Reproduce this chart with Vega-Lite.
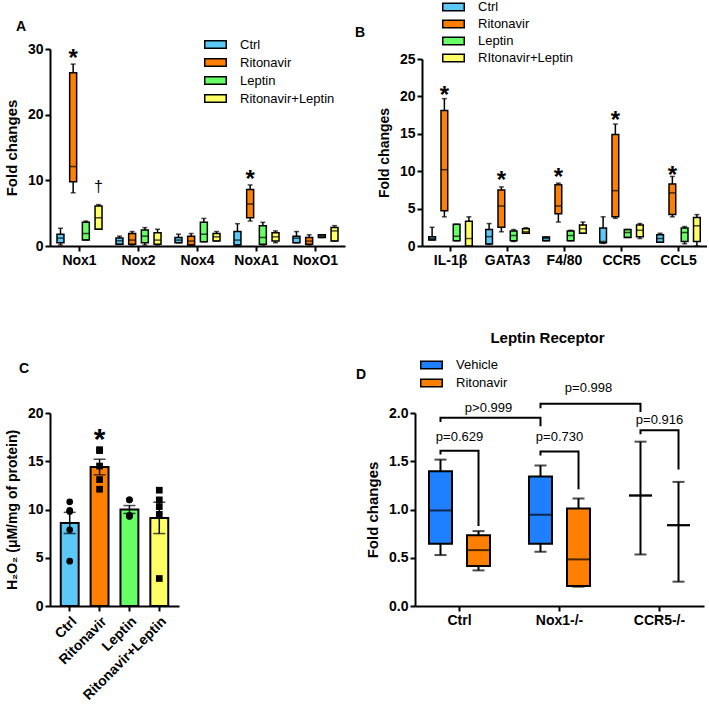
{
  "$schema": "https://vega.github.io/schema/vega-lite/v6.json",
  "padding": {"left": 4, "top": 0, "right": 0, "bottom": 0},
  "background": "white",
  "config": {
    "font": "Liberation Sans",
    "view": {"stroke": null},
    "axis": {"domainColor": "black", "domainWidth": 2, "tickColor": "black", "tickWidth": 2, "tickSize": 5, "labelColor": "black", "labelFont": "Liberation Sans", "labelFontWeight": "bold", "labelFontSize": 14, "titleFont": "Liberation Sans", "titleFontWeight": "bold", "titleFontSize": 15, "titleColor": "black", "grid": false, "labelPadding": 2, "labelOverlap": false},
    "legend": {"padding": 0, "labelFont": "Liberation Sans", "labelFontSize": 13, "labelColor": "black", "symbolStrokeColor": "black", "symbolStrokeWidth": 1.5, "symbolOpacity": 1, "symbolType": "M-2.8,-1H2.8V1H-2.8Z", "symbolSize": 59, "labelOffset": 18, "titleFont": "Liberation Sans", "titleFontSize": 14, "titleFontWeight": "bold", "titleColor": "black"},
    "title": {"font": "Liberation Sans", "fontSize": 14, "fontWeight": "bold", "color": "black"}
  },
  "spacing": 63,
  "resolve": {"scale": {"color": "independent", "xOffset": "independent", "shape": "independent"}, "legend": {"color": "independent", "shape": "independent"}},
  "vconcat": [
    {
      "hconcat": [
        {
          "width": 295, "height": 197,
          "title": {"text": "A", "anchor": "start", "frame": "group", "dx": -34, "offset": 4},
          "data": {"values": [
            {"gene": "Nox1", "group": "Ctrl", "min": 0.15, "q1": 0.5, "median": 1.2, "q3": 1.8, "max": 2.7},
            {"gene": "Nox1", "group": "Ritonavir", "min": 8.1, "q1": 9.8, "median": 12.1, "q3": 26.4, "max": 27.7},
            {"gene": "Nox1", "group": "Leptin", "min": 0.9, "q1": 0.9, "median": 1.9, "q3": 3.6, "max": 3.8},
            {"gene": "Nox1", "group": "Ritonavir+Leptin", "min": 2.55, "q1": 2.55, "median": 4.3, "q3": 6.1, "max": 6.3},
            {"gene": "Nox2", "group": "Ctrl", "min": 0.25, "q1": 0.25, "median": 0.8, "q3": 1.2, "max": 1.5},
            {"gene": "Nox2", "group": "Ritonavir", "min": 0.15, "q1": 0.25, "median": 0.9, "q3": 1.9, "max": 2.2},
            {"gene": "Nox2", "group": "Leptin", "min": 0.15, "q1": 0.5, "median": 1.5, "q3": 2.45, "max": 2.8},
            {"gene": "Nox2", "group": "Ritonavir+Leptin", "min": 0.15, "q1": 0.25, "median": 0.9, "q3": 2.0, "max": 2.55},
            {"gene": "Nox4", "group": "Ctrl", "min": 0.5, "q1": 0.5, "median": 0.9, "q3": 1.3, "max": 1.8},
            {"gene": "Nox4", "group": "Ritonavir", "min": 0.15, "q1": 0.15, "median": 0.75, "q3": 1.5, "max": 1.9},
            {"gene": "Nox4", "group": "Leptin", "min": 0.65, "q1": 0.65, "median": 1.8, "q3": 3.6, "max": 4.2},
            {"gene": "Nox4", "group": "Ritonavir+Leptin", "min": 0.75, "q1": 0.75, "median": 1.4, "q3": 1.9, "max": 2.2},
            {"gene": "NoxA1", "group": "Ctrl", "min": 0.15, "q1": 0.15, "median": 0.9, "q3": 2.2, "max": 3.4},
            {"gene": "NoxA1", "group": "Ritonavir", "min": 3.8, "q1": 4.3, "median": 6.4, "q3": 8.6, "max": 9.3},
            {"gene": "NoxA1", "group": "Leptin", "min": 0.15, "q1": 0.25, "median": 1.3, "q3": 3.1, "max": 3.6},
            {"gene": "NoxA1", "group": "Ritonavir+Leptin", "min": 0.5, "q1": 0.75, "median": 1.4, "q3": 2.0, "max": 2.3},
            {"gene": "NoxO1", "group": "Ctrl", "min": 0.5, "q1": 0.5, "median": 1.2, "q3": 1.5, "max": 2.2},
            {"gene": "NoxO1", "group": "Ritonavir", "min": 0.15, "q1": 0.25, "median": 0.75, "q3": 1.3, "max": 1.7},
            {"gene": "NoxO1", "group": "Leptin", "min": 1.3, "q1": 1.3, "median": 1.5, "q3": 1.7, "max": 1.7},
            {"gene": "NoxO1", "group": "Ritonavir+Leptin", "min": 0.75, "q1": 0.75, "median": 2.3, "q3": 2.8, "max": 3.1}
          ]},
          "encoding": {
            "x": {"field": "gene", "type": "nominal", "scale": {"domain": ["Nox1", "Nox2", "Nox4", "NoxA1", "NoxO1"], "paddingInner": 0, "paddingOuter": 0}, "axis": {"title": null, "labelAngle": 0}},
            "xOffset": {"field": "group", "type": "nominal", "scale": {"domain": ["Ctrl", "Ritonavir", "Leptin", "Ritonavir+Leptin"], "paddingInner": 0.45, "paddingOuter": 0.55}}
          },
          "layer": [
            {"mark": {"type": "rule", "color": "black", "strokeWidth": 1.5}, "encoding": {"y": {"field": "min", "type": "quantitative", "scale": {"domain": [0, 30], "nice": false}, "axis": {"values": [0, 10, 20, 30], "title": "Fold changes", "titlePadding": 8}}, "y2": {"field": "max"}}},
            {"mark": {"type": "bar", "stroke": "black", "strokeWidth": 1.5}, "encoding": {"y": {"field": "q1", "type": "quantitative", "title": "Fold changes"}, "y2": {"field": "q3"}, "color": {"field": "group", "type": "nominal", "scale": {"domain": ["Ctrl", "Ritonavir", "Leptin", "Ritonavir+Leptin"], "range": ["#5BC8F5", "#FF8000", "#66FF66", "#FFFF66"]}, "legend": {"orient": "none", "legendX": 159, "legendY": -11, "title": null, "rowPadding": 3}}}},
            {"mark": {"type": "tick", "color": "black", "thickness": 1.5, "size": 7}, "encoding": {"y": {"field": "median", "type": "quantitative", "title": "Fold changes"}}},
            {"mark": {"type": "tick", "color": "black", "thickness": 1.5, "size": 5}, "encoding": {"y": {"field": "min", "type": "quantitative", "title": "Fold changes"}}},
            {"mark": {"type": "tick", "color": "black", "thickness": 1.5, "size": 5}, "encoding": {"y": {"field": "max", "type": "quantitative", "title": "Fold changes"}}},
            {"data": {"values": [
              {"gene": "Nox1", "group": "Ritonavir", "y": 29.1, "label": "*"},
              {"gene": "NoxA1", "group": "Ritonavir", "y": 10.7, "label": "*"}
            ]}, "mark": {"type": "text", "fontSize": 24, "fontWeight": "bold", "baseline": "alphabetic", "dy": 11, "color": "black"}, "encoding": {"y": {"field": "y", "type": "quantitative", "title": "Fold changes"}, "text": {"field": "label"}}},
            {"data": {"values": [
              {"gene": "Nox1", "group": "Ritonavir+Leptin", "y": 8.9, "label": "†"}
            ]}, "mark": {"type": "text", "fontSize": 16, "baseline": "alphabetic", "dy": 4, "color": "black"}, "encoding": {"y": {"field": "y", "type": "quantitative", "title": "Fold changes"}, "text": {"field": "label"}}}
          ]
        },
        {
          "width": 285, "height": 197,
          "data": {"values": [
            {"gene": "IL-1β", "group": "Ctrl", "min": 0.8, "q1": 0.8, "median": 1.0, "q3": 1.25, "max": 2.5},
            {"gene": "IL-1β", "group": "Ritonavir", "min": 3.9, "q1": 4.7, "median": 10.2, "q3": 18.1, "max": 19.7},
            {"gene": "IL-1β", "group": "Leptin", "min": 0.7, "q1": 0.7, "median": 1.3, "q3": 2.9, "max": 2.9},
            {"gene": "IL-1β", "group": "RItonavir+Leptin", "min": 0, "q1": 0, "median": 1.0, "q3": 3.3, "max": 3.9},
            {"gene": "GATA3", "group": "Ctrl", "min": 0.2, "q1": 0.27, "median": 1.25, "q3": 2.2, "max": 3.0},
            {"gene": "GATA3", "group": "Ritonavir", "min": 1.9, "q1": 2.5, "median": 5.35, "q3": 7.5, "max": 7.9},
            {"gene": "GATA3", "group": "Leptin", "min": 0.6, "q1": 0.7, "median": 1.4, "q3": 2.0, "max": 2.2},
            {"gene": "GATA3", "group": "RItonavir+Leptin", "min": 1.7, "q1": 1.7, "median": 1.9, "q3": 2.3, "max": 2.45},
            {"gene": "F4/80", "group": "Ctrl", "min": 0.7, "q1": 0.7, "median": 1.0, "q3": 1.2, "max": 1.2},
            {"gene": "F4/80", "group": "Ritonavir", "min": 3.2, "q1": 4.3, "median": 5.35, "q3": 8.2, "max": 8.4},
            {"gene": "F4/80", "group": "Leptin", "min": 0.7, "q1": 0.7, "median": 1.4, "q3": 2.0, "max": 2.1},
            {"gene": "F4/80", "group": "RItonavir+Leptin", "min": 1.7, "q1": 1.7, "median": 2.3, "q3": 2.8, "max": 3.2},
            {"gene": "CCR5", "group": "Ctrl", "min": 0.35, "q1": 0.45, "median": 0.6, "q3": 2.4, "max": 3.9},
            {"gene": "CCR5", "group": "Ritonavir", "min": 3.7, "q1": 3.9, "median": 7.4, "q3": 14.9, "max": 16.3},
            {"gene": "CCR5", "group": "Leptin", "min": 1.15, "q1": 1.15, "median": 1.8, "q3": 2.2, "max": 2.2},
            {"gene": "CCR5", "group": "RItonavir+Leptin", "min": 1.0, "q1": 1.25, "median": 2.1, "q3": 2.8, "max": 3.0},
            {"gene": "CCL5", "group": "Ctrl", "min": 0.5, "q1": 0.5, "median": 1.0, "q3": 1.5, "max": 1.7},
            {"gene": "CCL5", "group": "Ritonavir", "min": 3.9, "q1": 4.2, "median": 7.1, "q3": 8.3, "max": 9.3},
            {"gene": "CCL5", "group": "Leptin", "min": 0.3, "q1": 0.6, "median": 1.8, "q3": 2.4, "max": 2.6},
            {"gene": "CCL5", "group": "RItonavir+Leptin", "min": 0, "q1": 0.6, "median": 2.7, "q3": 3.8, "max": 4.2}
          ]},
          "encoding": {
            "x": {"field": "gene", "type": "nominal", "scale": {"domain": ["IL-1β", "GATA3", "F4/80", "CCR5", "CCL5"], "paddingInner": 0, "paddingOuter": 0}, "axis": {"title": null, "labelAngle": 0}},
            "xOffset": {"field": "group", "type": "nominal", "scale": {"domain": ["Ctrl", "Ritonavir", "Leptin", "RItonavir+Leptin"], "paddingInner": 0.45, "paddingOuter": 0.55}}
          },
          "layer": [
            {"mark": {"type": "rule", "color": "black", "strokeWidth": 1.5}, "encoding": {"y": {"field": "min", "type": "quantitative", "scale": {"domain": [0, 25], "nice": false, "range": [197, 10]}, "axis": {"values": [0, 5, 10, 15, 20, 25], "tickCount": 6, "title": "Fold changes", "titleFontSize": 14, "titlePadding": 8, "labelOverlap": false}}, "y2": {"field": "max"}}},
            {"mark": {"type": "bar", "stroke": "black", "strokeWidth": 1.5}, "encoding": {"y": {"field": "q1", "type": "quantitative", "axis": {"values": [0, 5, 10, 15, 20, 25], "tickCount": 6, "title": "Fold changes", "titleFontSize": 14, "titlePadding": 8, "labelOverlap": false}}, "y2": {"field": "q3"}, "color": {"field": "group", "type": "nominal", "scale": {"domain": ["Ctrl", "Ritonavir", "Leptin", "RItonavir+Leptin"], "range": ["#5BC8F5", "#FF8000", "#66FF66", "#FFFF66"]}, "legend": {"orient": "none", "legendX": -67, "legendY": -48.5, "title": "B", "titleOrient": "left", "titlePadding": 81, "titleAnchor": "middle", "titleBaseline": "middle", "rowPadding": 2}}}},
            {"mark": {"type": "tick", "color": "black", "thickness": 1.5, "size": 7}, "encoding": {"y": {"field": "median", "type": "quantitative", "axis": {"values": [0, 5, 10, 15, 20, 25], "tickCount": 6, "title": "Fold changes", "titleFontSize": 14, "titlePadding": 8, "labelOverlap": false}}}},
            {"mark": {"type": "tick", "color": "black", "thickness": 1.5, "size": 5}, "encoding": {"y": {"field": "min", "type": "quantitative", "axis": {"values": [0, 5, 10, 15, 20, 25], "tickCount": 6, "title": "Fold changes", "titleFontSize": 14, "titlePadding": 8, "labelOverlap": false}}}},
            {"mark": {"type": "tick", "color": "black", "thickness": 1.5, "size": 5}, "encoding": {"y": {"field": "max", "type": "quantitative", "axis": {"values": [0, 5, 10, 15, 20, 25], "tickCount": 6, "title": "Fold changes", "titleFontSize": 14, "titlePadding": 8, "labelOverlap": false}}}},
            {"data": {"values": [
              {"gene": "IL-1β", "group": "Ritonavir", "y": 20.8, "label": "*"},
              {"gene": "GATA3", "group": "Ritonavir", "y": 9.5, "label": "*"},
              {"gene": "F4/80", "group": "Ritonavir", "y": 9.9, "label": "*"},
              {"gene": "CCR5", "group": "Ritonavir", "y": 17.5, "label": "*"},
              {"gene": "CCL5", "group": "Ritonavir", "y": 10.2, "label": "*"}
            ]}, "mark": {"type": "text", "fontSize": 24, "fontWeight": "bold", "baseline": "alphabetic", "dy": 13, "color": "black"}, "encoding": {"y": {"field": "y", "type": "quantitative", "axis": {"values": [0, 5, 10, 15, 20, 25], "tickCount": 6, "title": "Fold changes", "titleFontSize": 14, "titlePadding": 8, "labelOverlap": false}}, "text": {"field": "label"}}}
          ]
        }
      ],
      "spacing": 77,
      "bounds": "flush",
      "resolve": {"scale": {"color": "independent", "xOffset": "independent"}, "legend": {"color": "independent"}}
    },
    {
      "hconcat": [
        {
          "width": 129, "height": 193,
          "title": {"text": "C", "anchor": "start", "frame": "group", "dx": -31, "offset": 30},
          "data": {"values": [
            {"group": "Ctrl", "value": 10.8}, {"group": "Ctrl", "value": 9.8}, {"group": "Ctrl", "value": 9.9}, {"group": "Ctrl", "value": 7.9}, {"group": "Ctrl", "value": 4.65},
            {"group": "Ritonavir", "value": 16.2}, {"group": "Ritonavir", "value": 16.1}, {"group": "Ritonavir", "value": 14.5}, {"group": "Ritonavir", "value": 13.1}, {"group": "Ritonavir", "value": 12.1},
            {"group": "Leptin", "value": 11.0}, {"group": "Leptin", "value": 11.0}, {"group": "Leptin", "value": 9.4}, {"group": "Leptin", "value": 9.3}, {"group": "Leptin", "value": 9.3},
            {"group": "Ritonavir+Leptin", "value": 12.0}, {"group": "Ritonavir+Leptin", "value": 11.0}, {"group": "Ritonavir+Leptin", "value": 10.3}, {"group": "Ritonavir+Leptin", "value": 9.5}, {"group": "Ritonavir+Leptin", "value": 2.85}
          ]},
          "encoding": {
            "x": {"field": "group", "type": "nominal", "scale": {"domain": ["Ctrl", "Ritonavir", "Leptin", "Ritonavir+Leptin"], "paddingInner": 0.4, "paddingOuter": 0.36}, "axis": {"title": null, "labelAngle": -45, "labelAlign": "right", "labelBaseline": "top", "labelPadding": 3}}
          },
          "layer": [
            {"mark": {"type": "bar", "stroke": "black", "strokeWidth": 2}, "encoding": {"y": {"aggregate": "mean", "field": "value", "type": "quantitative", "scale": {"domain": [0, 20], "nice": false}, "axis": {"values": [0, 5, 10, 15, 20], "title": "H₂O₂ (μM/mg of protein)", "titleFontSize": 14, "titlePadding": 8}}, "color": {"field": "group", "type": "nominal", "scale": {"domain": ["Ctrl", "Ritonavir", "Leptin", "Ritonavir+Leptin"], "range": ["#5BC8F5", "#FF8000", "#66FF66", "#FFFF66"]}, "legend": null}}},
            {"mark": {"type": "errorbar", "extent": "stderr", "color": "black", "thickness": 1.5, "ticks": {"size": 12, "thickness": 1.5, "color": "black"}}, "encoding": {"y": {"field": "value", "type": "quantitative", "title": "H₂O₂ (μM/mg of protein)"}}},
            {"mark": {"type": "point", "filled": true, "color": "black", "opacity": 1, "size": 45}, "encoding": {"y": {"field": "value", "type": "quantitative", "title": "H₂O₂ (μM/mg of protein)"}, "shape": {"field": "group", "type": "nominal", "scale": {"domain": ["Ctrl", "Ritonavir", "Leptin", "Ritonavir+Leptin"], "range": ["circle", "square", "circle", "square"]}, "legend": null}}},
            {"data": {"values": [{"group": "Ritonavir", "y": 17.4, "label": "*"}]}, "mark": {"type": "text", "fontSize": 30, "fontWeight": "bold", "baseline": "alphabetic", "dy": 11, "color": "black"}, "encoding": {"y": {"field": "y", "type": "quantitative", "title": "H₂O₂ (μM/mg of protein)"}, "text": {"field": "label"}}}
          ]
        },
        {
          "width": 289, "height": 193,
          "title": {"text": "Leptin Receptor", "anchor": "middle", "frame": "group", "dx": -12, "offset": 13, "fontSize": 15},
          "encoding": {
            "x": {"field": "cat", "type": "nominal", "scale": {"domain": ["Ctrl", "Nox1-/-", "CCR5-/-"], "paddingInner": 0.3, "paddingOuter": 0.095}, "axis": {"title": null, "labelAngle": 0}}
          },
          "layer": [
            {
              "data": {"values": [
                {"cat": "Ctrl", "grp": "Vehicle", "min": 0.528, "q1": 0.645, "median": 0.99, "q3": 1.397, "max": 1.517},
                {"cat": "Ctrl", "grp": "Ritonavir", "min": 0.369, "q1": 0.414, "median": 0.579, "q3": 0.734, "max": 0.776},
                {"cat": "Nox1-/-", "grp": "Vehicle", "min": 0.562, "q1": 0.645, "median": 0.945, "q3": 1.341, "max": 1.455},
                {"cat": "Nox1-/-", "grp": "Ritonavir", "min": 0.2, "q1": 0.207, "median": 0.483, "q3": 1.01, "max": 1.114},
                {"cat": "CCR5-/-", "grp": "Vehicle", "min": 0.534, "q1": 1.145, "median": 1.145, "q3": 1.145, "max": 1.703},
                {"cat": "CCR5-/-", "grp": "Ritonavir", "min": 0.252, "q1": 0.838, "median": 0.838, "q3": 0.838, "max": 1.286}
              ]},
              "encoding": {
                "xOffset": {"field": "grp", "type": "nominal", "scale": {"domain": ["Vehicle", "Ritonavir"], "paddingInner": 0.395, "paddingOuter": 0.118}}
              },
              "layer": [
                {"mark": {"type": "rule", "color": "black", "strokeWidth": 2}, "encoding": {"y": {"field": "min", "type": "quantitative", "scale": {"domain": [0, 2], "nice": false}, "axis": {"values": [0, 0.5, 1, 1.5, 2], "format": ".1f", "title": "Fold changes", "titlePadding": 8}}, "y2": {"field": "max"}}},
                {"mark": {"type": "bar", "stroke": "black", "strokeWidth": 2}, "encoding": {"y": {"field": "q1", "type": "quantitative", "title": "Fold changes"}, "y2": {"field": "q3"}, "color": {"field": "grp", "type": "nominal", "scale": {"domain": ["Vehicle", "Ritonavir"], "range": ["#1E80FF", "#FF8000"]}, "legend": {"orient": "none", "legendX": -59, "legendY": -54.5, "title": "D", "titleOrient": "left", "titlePadding": 58, "titleAnchor": "middle", "titleBaseline": "middle", "rowPadding": 3}}}},
                {"mark": {"type": "tick", "color": "black", "thickness": 2, "size": 23}, "encoding": {"y": {"field": "median", "type": "quantitative", "title": "Fold changes"}}},
                {"mark": {"type": "tick", "color": "black", "thickness": 2, "size": 12}, "encoding": {"y": {"field": "min", "type": "quantitative", "title": "Fold changes"}}},
                {"mark": {"type": "tick", "color": "black", "thickness": 2, "size": 12}, "encoding": {"y": {"field": "max", "type": "quantitative", "title": "Fold changes"}}}
              ]
            },
            {
              "data": {"values": [
                {"br": "b1", "ord": 1, "cat": "Ctrl", "grp": "Vehicle", "y": 1.57},
                {"br": "b1", "ord": 2, "cat": "Ctrl", "grp": "Vehicle", "y": 1.61},
                {"br": "b1", "ord": 3, "cat": "Ctrl", "grp": "Ritonavir", "y": 1.61},
                {"br": "b1", "ord": 4, "cat": "Ctrl", "grp": "Ritonavir", "y": 0.83},
                {"br": "b2", "ord": 1, "cat": "Nox1-/-", "grp": "Vehicle", "y": 1.56},
                {"br": "b2", "ord": 2, "cat": "Nox1-/-", "grp": "Vehicle", "y": 1.6},
                {"br": "b2", "ord": 3, "cat": "Nox1-/-", "grp": "Ritonavir", "y": 1.6},
                {"br": "b2", "ord": 4, "cat": "Nox1-/-", "grp": "Ritonavir", "y": 1.21},
                {"br": "b3", "ord": 1, "cat": "Ctrl", "grp": "Vehicle", "y": 1.907},
                {"br": "b3", "ord": 2, "cat": "Ctrl", "grp": "Vehicle", "y": 1.95},
                {"br": "b3", "ord": 3, "cat": "Nox1-/-", "grp": "Vehicle", "y": 1.95},
                {"br": "b3", "ord": 4, "cat": "Nox1-/-", "grp": "Vehicle", "y": 1.862},
                {"br": "b4", "ord": 1, "cat": "Nox1-/-", "grp": "Vehicle", "y": 2.05},
                {"br": "b4", "ord": 2, "cat": "Nox1-/-", "grp": "Vehicle", "y": 2.097},
                {"br": "b4", "ord": 3, "cat": "CCR5-/-", "grp": "Vehicle", "y": 2.097},
                {"br": "b4", "ord": 4, "cat": "CCR5-/-", "grp": "Vehicle", "y": 2.01},
                {"br": "b5", "ord": 1, "cat": "CCR5-/-", "grp": "Vehicle", "y": 1.78},
                {"br": "b5", "ord": 2, "cat": "CCR5-/-", "grp": "Vehicle", "y": 1.82},
                {"br": "b5", "ord": 3, "cat": "CCR5-/-", "grp": "Ritonavir", "y": 1.82},
                {"br": "b5", "ord": 4, "cat": "CCR5-/-", "grp": "Ritonavir", "y": 1.414}
              ]},
              "mark": {"type": "line", "color": "black", "strokeWidth": 2},
              "encoding": {
                "xOffset": {"field": "grp", "type": "nominal"},
                "y": {"field": "y", "type": "quantitative", "title": "Fold changes"},
                "detail": {"field": "br"},
                "order": {"field": "ord", "type": "quantitative"}
              }
            },
            {
              "data": {"values": [
                {"cat": "Ctrl", "y": 1.75, "label": "p=0.629"},
                {"cat": "Nox1-/-", "y": 1.75, "label": "p=0.730"},
                {"cat": "CCR5-/-", "y": 1.93, "label": "p=0.916"}
              ]},
              "mark": {"type": "text", "fontSize": 13, "color": "black", "baseline": "middle"},
              "encoding": {"y": {"field": "y", "type": "quantitative", "title": "Fold changes"}, "text": {"field": "label"}}
            },
            {
              "data": {"values": [
                {"cat": "Ctrl", "grp": "Ritonavir", "y": 2.05, "label": "p>0.999"},
                {"cat": "Nox1-/-", "grp": "Ritonavir", "y": 2.26, "label": "p=0.998"}
              ]},
              "mark": {"type": "text", "fontSize": 13, "color": "black", "baseline": "middle", "dx": 10},
              "encoding": {"xOffset": {"field": "grp", "type": "nominal"}, "y": {"field": "y", "type": "quantitative", "title": "Fold changes"}, "text": {"field": "label"}}
            }
          ]
        }
      ],
      "spacing": 236,
      "bounds": "flush",
      "resolve": {"scale": {"color": "independent", "xOffset": "independent", "shape": "independent"}, "legend": {"color": "independent", "shape": "independent"}}
    }
  ]
}
